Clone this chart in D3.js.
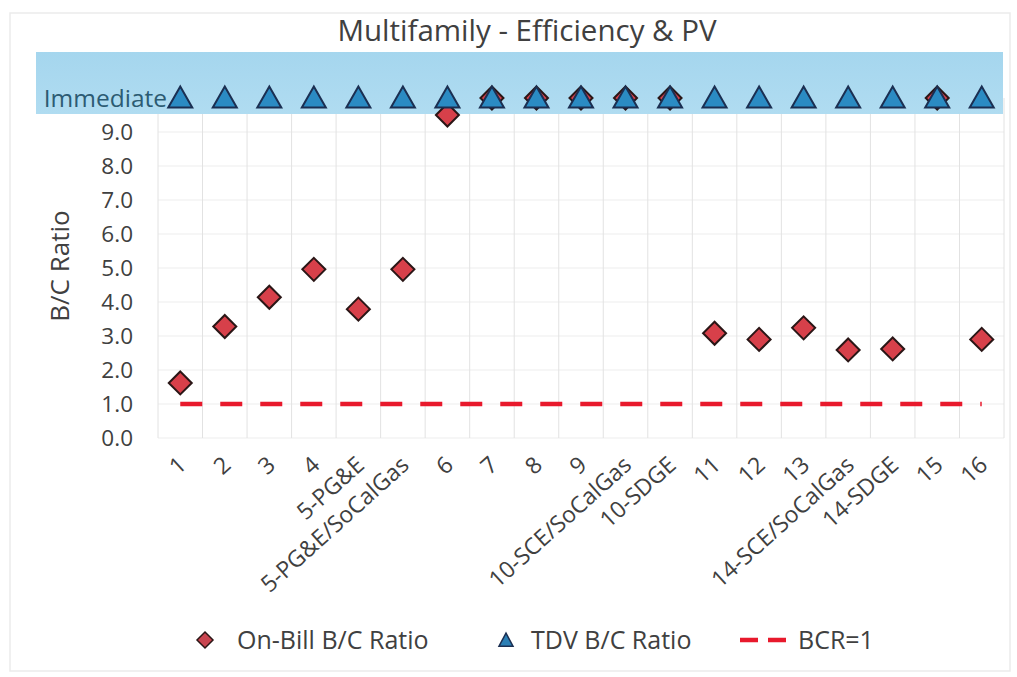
<!DOCTYPE html>
<html>
<head>
<meta charset="utf-8">
<script src="https://cdn.jsdelivr.net/npm/d3@7"></script>
<style>
  html, body { margin: 0; padding: 0; background: #fff; }
  svg { display: block; font-family: "Open Sans", "Noto Sans", sans-serif; }
</style>
</head>
<body>
<svg id="chart" width="1017" height="677"></svg>
<script>
const categories = ["1","2","3","4","5-PG&E","5-PG&E/SoCalGas","6","7","8","9","10-SCE/SoCalGas","10-SDGE","11","12","13","14-SCE/SoCalGas","14-SDGE","15","16"];
const onBill = [1.62, 3.28, 4.14, 4.96, 3.79, 4.96, 9.5, 10, 10, 10, 10, 10, 3.08, 2.90, 3.24, 2.59, 2.62, 10, 2.90];
const tdv = [10, 10, 10, 10, 10, 10, 10, 10, 10, 10, 10, 10, 10, 10, 10, 10, 10, 10, 10];
const bcr = [1, 1, 1, 1, 1, 1, 1, 1, 1, 1, 1, 1, 1, 1, 1, 1, 1, 1, 1];
const yTicks = [0, 1, 2, 3, 4, 5, 6, 7, 8, 9, 10];
const yTickLabels = ["0.0","1.0","2.0","3.0","4.0","5.0","6.0","7.0","8.0","9.0","Immediate"];
const legendLabels = ["On-Bill B/C Ratio", "TDV B/C Ratio", "BCR=1"];
const title = "Multifamily - Efficiency & PV";
const yTitle = "B/C Ratio";

const svg = d3.select("#chart");
const textColor = "#404040";

// outer frame
svg.append("rect").attr("x", 10).attr("y", 13).attr("width", 1000).attr("height", 658)
  .attr("fill", "none").attr("stroke", "#ebebeb").attr("stroke-width", 1.5);

const x = d3.scaleBand().domain(categories).range([158, 1004]).padding(0);
const y = d3.scaleLinear().domain([0, 10]).range([438, 98]);
const cx = d => x(d) + x.bandwidth() / 2;

// gridlines
const grid = svg.append("g");
grid.selectAll("line.h").data(yTicks.slice(0, 10)).join("line")
  .attr("x1", 158).attr("x2", 1004)
  .attr("y1", d => y(d)).attr("y2", d => y(d))
  .attr("stroke", "#ededed").attr("stroke-width", 1);
const bounds = categories.map(c => x(c)).concat([x.range()[1]]);
grid.selectAll("line.v").data(bounds).join("line")
  .attr("x1", d => d).attr("x2", d => d)
  .attr("y1", y(10)).attr("y2", y(0))
  .attr("stroke", "#e2e2e2").attr("stroke-width", 1);

// blue highlight band
const bandGrad = svg.append("defs").append("linearGradient").attr("id", "bandg")
  .attr("x1", 0).attr("y1", 0).attr("x2", 0).attr("y2", 1);
bandGrad.append("stop").attr("offset", "0%").attr("stop-color", "#a5d6ee");
bandGrad.append("stop").attr("offset", "100%").attr("stop-color", "#b0dcf1");
svg.append("rect").attr("x", 36).attr("y", 52).attr("width", 967).attr("height", 62)
  .attr("fill", "url(#bandg)");

// title
svg.append("text").attr("x", 527).attr("y", 41).attr("text-anchor", "middle")
  .attr("font-size", 29.5).attr("fill", textColor).text(title);

// y tick labels
svg.append("g").selectAll("text").data(yTicks).join("text")
  .attr("x", (d, i) => i === 10 ? 167 : 133)
  .attr("y", d => y(d))
  .attr("dy", "0.36em")
  .attr("text-anchor", "end")
  .attr("font-size", (d, i) => i === 10 ? 24.5 : 22.5)
  .attr("fill", (d, i) => i === 10 ? "#2c5b73" : textColor)
  .text((d, i) => yTickLabels[i]);

// y title
svg.append("text").attr("transform", "translate(69,266) rotate(-90)")
  .attr("text-anchor", "middle").attr("font-size", 26).attr("fill", textColor).text(yTitle);

// x labels
svg.append("g").selectAll("text").data(categories).join("text")
  .attr("transform", d => `translate(${cx(d) + 2},${461}) rotate(-42)`)
  .attr("text-anchor", "end").attr("dy", "0.35em")
  .attr("font-size", 23).attr("fill", textColor).text(d => d);

// BCR line
const line = d3.line().x((d, i) => cx(categories[i])).y(d => y(d));
svg.append("path").datum(bcr).attr("d", line)
  .attr("fill", "none").attr("stroke", "#e8192c").attr("stroke-width", 4.5)
  .attr("stroke-dasharray", "22,18");

// markers
const diamondPath = (s) => `M0,${-s}L${s},0L0,${s}L${-s},0Z`;
const trianglePath = (w, h) => `M0,${-h * 0.6}L${w / 2},${h * 0.4}L${-w / 2},${h * 0.4}Z`;

svg.append("g").selectAll("path").data(onBill).join("path")
  .attr("transform", (d, i) => `translate(${cx(categories[i])},${y(d)})`)
  .attr("d", diamondPath(11.5))
  .attr("fill", "#d7404a").attr("stroke", "#2a1616").attr("stroke-width", 2);

svg.append("g").selectAll("path").data(tdv).join("path")
  .attr("transform", (d, i) => `translate(${cx(categories[i])},${y(d) + 1})`)
  .attr("d", trianglePath(24, 21))
  .attr("fill", "#2b8bc3").attr("stroke", "#1b2f52").attr("stroke-width", 2);

// legend
const lg = svg.append("g");
const ly = 640;
lg.append("path").attr("transform", `translate(205,${ly})`).attr("d", diamondPath(8))
  .attr("fill", "#c94550").attr("stroke", "#2a1616").attr("stroke-width", 1.5);
lg.append("text").attr("x", 237).attr("y", ly).attr("dy", "0.36em")
  .attr("font-size", 25).attr("fill", textColor).text(legendLabels[0]);
lg.append("path").attr("transform", `translate(506,${ly + 1})`).attr("d", trianglePath(14, 13))
  .attr("fill", "#2b7fb5").attr("stroke", "#1b2f52").attr("stroke-width", 1.5);
lg.append("text").attr("x", 531).attr("y", ly).attr("dy", "0.36em")
  .attr("font-size", 25).attr("fill", textColor).text(legendLabels[1]);
lg.append("line").attr("x1", 740).attr("x2", 793).attr("y1", ly).attr("y2", ly)
  .attr("stroke", "#e8192c").attr("stroke-width", 4.5).attr("stroke-dasharray", "18,10");
lg.append("text").attr("x", 798).attr("y", ly).attr("dy", "0.36em")
  .attr("font-size", 25).attr("fill", textColor).text(legendLabels[2]);
</script>
</body>
</html>
